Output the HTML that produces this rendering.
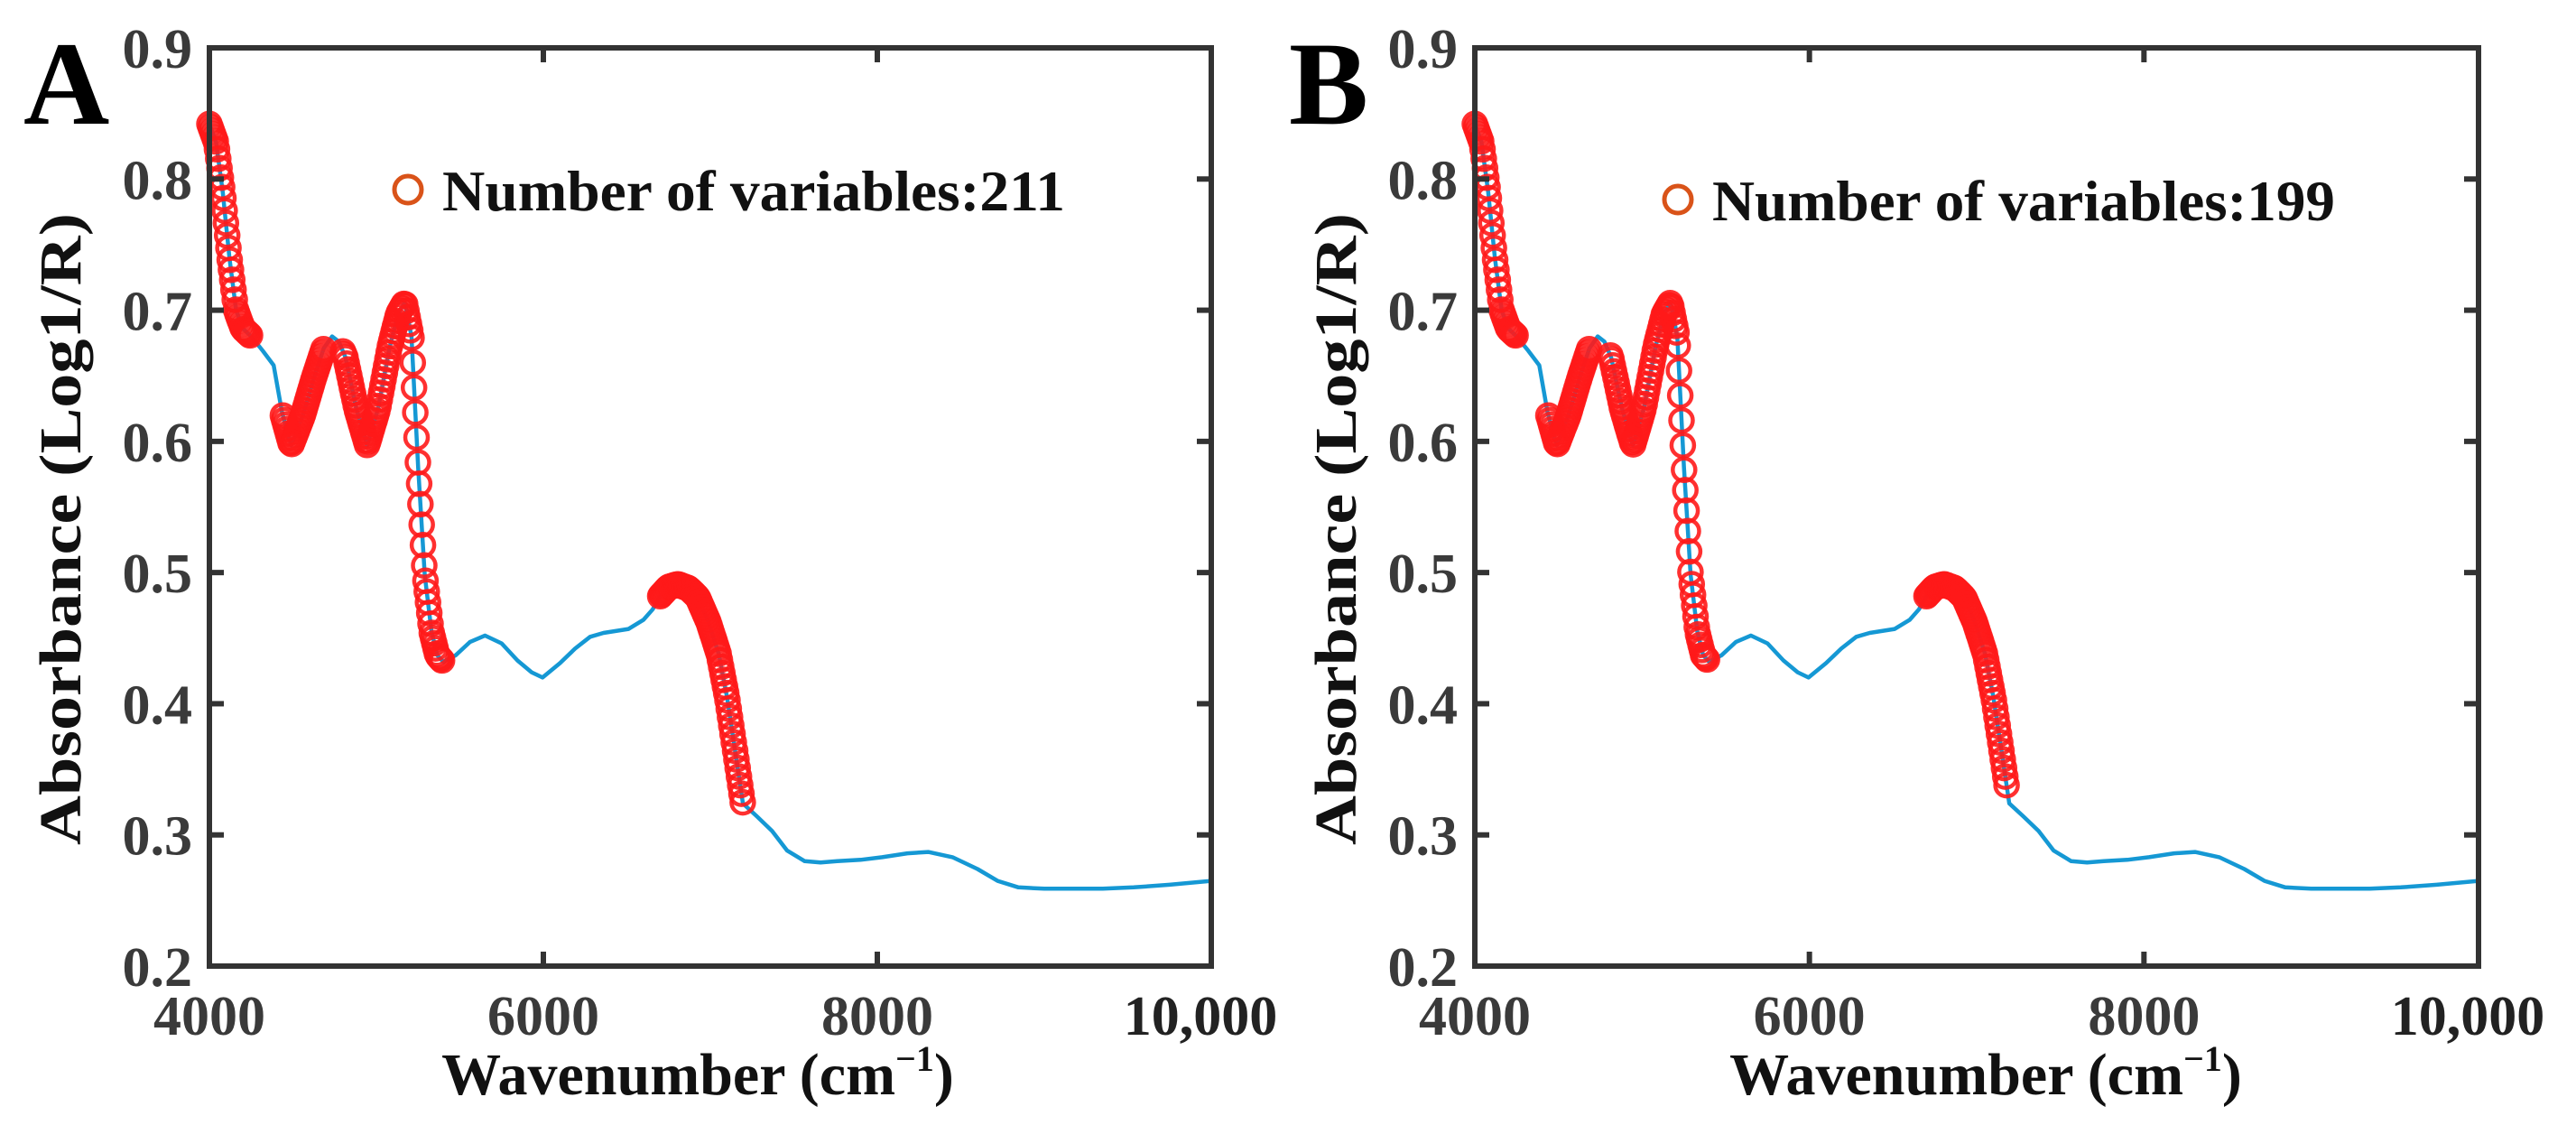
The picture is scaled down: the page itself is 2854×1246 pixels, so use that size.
<!DOCTYPE html>
<html>
<head>
<meta charset="utf-8">
<style>
  html,body{margin:0;padding:0;background:#fff;}
  svg{display:block;}
  text{font-family:"Liberation Serif","DejaVu Serif",serif;font-weight:bold;}
</style>
</head>
<body>
<svg id="fig" width="2854" height="1246" viewBox="0 0 2854 1246" xmlns="http://www.w3.org/2000/svg">
  <rect x="0" y="0" width="2854" height="1246" fill="#fff"/>
</svg>
<script>
// ---- data ----
const wavenumbers = [4000,4040,4080,4120,4160,4200,4250,4320,4385,4435,4490,4560,4630,4685,4735,4775,4815,4880,4945,5010,5080,5130,5170,5210,5250,5290,5330,5365,5400,5475,5560,5650,5750,5845,5930,5995,6100,6190,6280,6360,6510,6600,6655,6700,6750,6805,6870,6925,6990,7050,7100,7145,7195,7280,7370,7460,7565,7660,7760,7900,8030,8180,8305,8450,8600,8720,8845,9000,9140,9350,9535,9750,10000];
const absorbance  = [0.842,0.828,0.790,0.740,0.700,0.686,0.680,0.669,0.658,0.622,0.597,0.620,0.650,0.671,0.680,0.676,0.664,0.625,0.597,0.625,0.672,0.697,0.706,0.680,0.580,0.498,0.455,0.437,0.432,0.437,0.447,0.452,0.446,0.433,0.424,0.420,0.431,0.442,0.451,0.454,0.457,0.464,0.472,0.482,0.489,0.491,0.488,0.481,0.462,0.438,0.405,0.367,0.324,0.314,0.303,0.288,0.280,0.279,0.280,0.281,0.283,0.286,0.287,0.283,0.274,0.265,0.260,0.259,0.259,0.259,0.260,0.262,0.265];
const selectedRangesA = [[4000,4250],[4440,4690],[4800,5400],[6700,7195]];
const selectedRangesB = [[4000,4250],[4440,4690],[4810,5390],[6700,7180]];
const legendCountA = 211;
const legendCountB = 199;
const yTicks = [0.2,0.3,0.4,0.5,0.6,0.7,0.8,0.9];
const yTickLabels = ["0.2","0.3","0.4","0.5","0.6","0.7","0.8","0.9"];
const xTicks = [4000,6000,8000,10000];
const xTickLabels = ["4000","6000","8000","10,000"];

const NS = "http://www.w3.org/2000/svg";
const svg = document.getElementById('fig');
function mk(tag, attrs, parent){
  const e = document.createElementNS(NS, tag);
  for (const k in attrs) e.setAttribute(k, attrs[k]);
  (parent||svg).appendChild(e);
  return e;
}
function interp(w){
  for (let i=0;i<wavenumbers.length-1;i++){
    if (w>=wavenumbers[i] && w<=wavenumbers[i+1]){
      const t=(w-wavenumbers[i])/(wavenumbers[i+1]-wavenumbers[i]);
      return absorbance[i]+t*(absorbance[i+1]-absorbance[i]);
    }
  }
  return absorbance[absorbance.length-1];
}

function drawPanel(cfg){
  const g = mk('g', {});
  
  
  const L=cfg.left, R=cfg.right, T=53, B=1070;
  const xs = w => L + (w-4000)/(10000-4000)*(R-L);
  const ys = v => B - (v-0.2)/(0.9-0.2)*(B-T);

  let d='';
  wavenumbers.forEach((w,i)=>{ d += (i?'L':'M') + xs(w).toFixed(1) + ' ' + ys(absorbance[i]).toFixed(1) + ' '; });
  const line = mk('path', {d:d, fill:'none', stroke:'#1598d4', 'stroke-width':4.5, 'stroke-linejoin':'round'}, g);
  
  

  const mg = mk('g', {fill:'none', stroke:'#ff1a1a', 'stroke-width':4.5, 'stroke-opacity':0.9}, g);
  
  
  cfg.ranges.forEach(r=>{
    for (let w=r[0]; w<=r[1]+0.01; w+=7.6){
      const c = mk('circle', {cx:xs(w).toFixed(1), cy:ys(interp(w)).toFixed(1), r:12.5}, mg);
      
      
    }
  });

  const box = mk('rect', {x:L, y:T, width:R-L, height:B-T, fill:'none', stroke:'#333', 'stroke-width':6}, g);
  
  

  yTicks.forEach((v,i)=>{
    const y=ys(v);
    if (i>0 && i<yTicks.length-1){
      mk('line',{x1:L,y1:y,x2:L+16,y2:y,stroke:'#333','stroke-width':6},g);
      mk('line',{x1:R,y1:y,x2:R-16,y2:y,stroke:'#333','stroke-width':6},g);
    }
    const t = mk('text',{x:L-19,y:y+22,'text-anchor':'end','font-size':62,fill:'#3a3a3a'},g);
    t.textContent = yTickLabels[i];
    
    
  });
  xTicks.forEach((w,i)=>{
    const x=xs(w);
    if (i>0 && i<xTicks.length-1){
      mk('line',{x1:x,y1:B,x2:x,y2:B-16,stroke:'#333','stroke-width':6},g);
      mk('line',{x1:x,y1:T,x2:x,y2:T+16,stroke:'#333','stroke-width':6},g);
    }
    const t = mk('text',{x:(i===xTicks.length-1? x-12 : x),y:1146,'text-anchor':'middle','font-size':62,fill:(i===xTicks.length-1?'#222':'#3a3a3a')},g);
    t.textContent = xTickLabels[i];
    
    
  });

  const xt = mk('text',{x:cfg.xTitleX,y:1212,'text-anchor':'middle','font-size':66,fill:'#111'},g);
  
  
  xt.appendChild(document.createTextNode('Wavenumber (cm'));
  const sup = mk('tspan',{'font-size':40,dy:-26},xt); sup.textContent='\u22121';
  const cl = mk('tspan',{dy:26},xt); cl.textContent=')';

  const yt = mk('text',{x:0,y:0,'text-anchor':'middle','font-size':66,fill:'#111',
    transform:'translate('+(cfg.yTitleX+23)+',586) rotate(-90)', textLength:700, lengthAdjust:'spacingAndGlyphs'},g);
  yt.textContent='Absorbance (Log1/R)';
  
  

  const lg = mk('g',{},g);
  
  
  const lc = mk('circle',{cx:cfg.legX, cy:cfg.legY, r:15, fill:'none', stroke:'#d95319','stroke-width':5},lg);
  
  
  const lt = mk('text',{x:cfg.legX+38,y:cfg.legY+23,'font-size':64,fill:'#111',textLength:690,lengthAdjust:'spacingAndGlyphs'},lg);
  lt.textContent='Number of variables:'+cfg.count;
  
  

  const pl = mk('text',{x:cfg.letterX,y:137,'font-size':132,fill:'#000'},g);
  pl.textContent=cfg.letter;
  
  
}

drawPanel({name:'panel-a', left:232, right:1342, ranges:selectedRangesA, count:legendCountA,
  legX:452, legY:210, xTitleX:773, yTitleX:66, letter:'A', letterX:26});
drawPanel({name:'panel-b', left:1634, right:2746, ranges:selectedRangesB, count:legendCountB,
  legX:1859, legY:221, xTitleX:2200, yTitleX:1479, letter:'B', letterX:1428});
</script>
</body>
</html>
